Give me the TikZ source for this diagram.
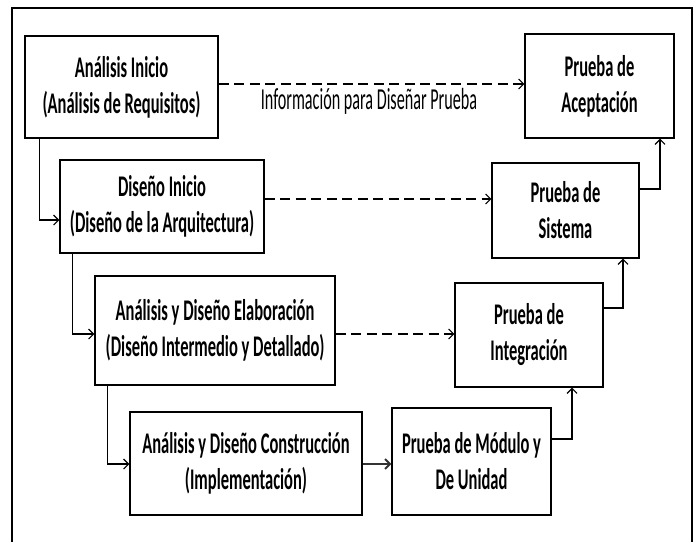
\documentclass[tikz,border=0pt]{standalone}
\usepackage{fontspec}
\usetikzlibrary{arrows.meta}
\newfontfamily\boxfont[FakeStretch=0.55]{Carlito}
\newfontfamily\lblfont[FakeStretch=0.53]{Carlito}
\tikzset{
  box/.style={draw=black, line width=1.1pt, rectangle, inner sep=0pt, align=center,
    font=\boxfont\bfseries\fontsize{30}{36}\selectfont},
  conn/.style={draw=black, line width=1.2pt, -{Straight Barb[length=5pt,width=10pt]}},
  dconn/.style={conn, dash pattern=on 10pt off 5.5pt},
  lbl/.style={font=\lblfont\fontsize{30.5}{32}\selectfont, inner sep=0pt}
}
\begin{document}
\begin{tikzpicture}[x=1pt,y=-1pt]
\useasboundingbox (0,0) rectangle (698,541);
\draw[line width=1.2pt] (12,545) -- (12,8) -- (692,8) -- (692,545);

\node[box, minimum width=193pt, minimum height=102pt] (A) at (121.5,87) {Análisis Inicio\\(Análisis de Requisitos)};
\node[box, minimum width=149pt, minimum height=104pt] (Acep) at (599.5,86) {Prueba de\\Aceptación};
\node[box, minimum width=204pt, minimum height=93pt] (DI) at (162,206.5) {Diseño Inicio\\(Diseño de la Arquitectura)};
\node[box, minimum width=147pt, minimum height=95pt] (Sis) at (565.5,210.5) {Prueba de\\Sistema};
\node[box, minimum width=240pt, minimum height=109pt] (El) at (215,330.5) {Análisis y Diseño Elaboración\\(Diseño Intermedio y Detallado)};
\node[box, minimum width=148pt, minimum height=104pt] (Int) at (529,335) {Prueba de\\Integración};
\node[box, minimum width=232pt, minimum height=103pt] (Con) at (246,463.5) {Análisis y Diseño Construcción\\(Implementación)};
\node[box, minimum width=159pt, minimum height=107pt] (Mod) at (471.5,461.5) {Prueba de Módulo y\\De Unidad};

\node[lbl, anchor=base] (info) at (369,109) {Información para Diseñar Prueba};

% dashed information arrows
\draw[dconn] ([yshift=3pt]A.east) -- ([yshift=3pt]A.east -| Acep.west);
\draw[dconn] ([yshift=7.5pt]DI.east) -- ([yshift=7.5pt]DI.east -| Sis.west);
\draw[dconn] ([yshift=-3.5pt]El.east) -- ([yshift=-3.5pt]El.east -| Int.west);

% left cascade
\draw[conn] ([xshift=15pt]A.south west) |- ([yshift=-13.5pt]DI.west);
\draw[conn] ([xshift=13pt]DI.south west) |- ([yshift=-3.5pt]El.west);
\draw[conn] ([xshift=13pt]El.south west) |- ([yshift=-0.5pt]Con.west);
\draw[conn, line width=2pt, draw=black!80] ([yshift=-0.5pt]Con.east) -- ([yshift=-0.5pt]Con.east -| Mod.west);

% right ascent
\draw[conn] ([yshift=22.5pt]Mod.east) -| ([xshift=43pt]Int.south);
\draw[conn] ([yshift=27pt]Int.east) -| ([xshift=57.5pt]Sis.south);
\draw[conn] ([yshift=21.5pt]Sis.east) -| ([xshift=60.5pt]Acep.south);
\end{tikzpicture}
\end{document}
